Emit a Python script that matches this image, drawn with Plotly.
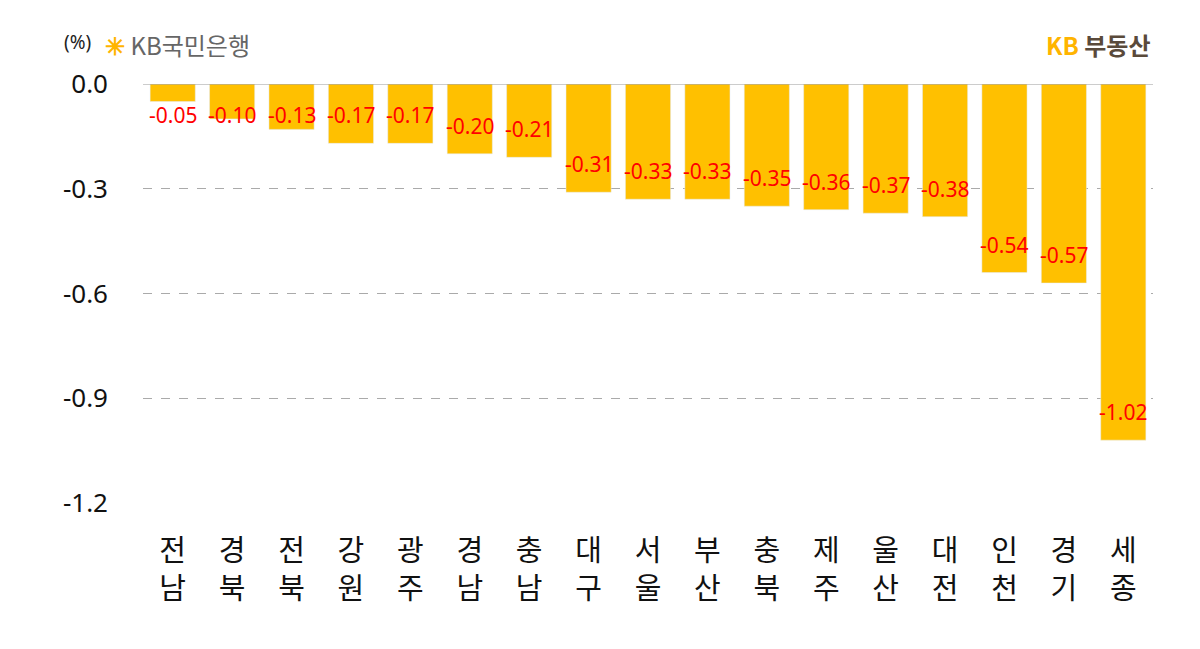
import plotly.graph_objects as go

regions = ["전<br>남", "경<br>북", "전<br>북", "강<br>원", "광<br>주", "경<br>남", "충<br>남", "대<br>구",
           "서<br>울", "부<br>산", "충<br>북", "제<br>주", "울<br>산", "대<br>전", "인<br>천", "경<br>기", "세<br>종"]
changes = [-0.05, -0.10, -0.13, -0.17, -0.17, -0.20, -0.21, -0.31,
           -0.33, -0.33, -0.35, -0.36, -0.37, -0.38, -0.54, -0.57, -1.02]
y_ticks = [0.0, -0.3, -0.6, -0.9, -1.2]

fig = go.Figure(go.Bar(x=regions, y=changes, marker_color="#FFC000", width=0.76))

# value labels placed a bit above the bar end, like the original
for r, v in zip(regions, changes):
    fig.add_annotation(x=r, y=min(v + 0.08, -0.09), text=f"{v:.2f}", showarrow=False,
                       font=dict(color="#FF0000", size=21, family="Noto Sans"))

fig.add_shape(type="line", xref="paper", yref="y", x0=0, x1=1, y0=0, y1=0,
              line=dict(color="#999999", width=1))

fig.add_annotation(xref="paper", yref="paper", x=-0.08, y=1.135, text="(%)", showarrow=False,
                   font=dict(size=19, color="#222222", family="Noto Sans"), xanchor="left")
fig.add_annotation(xref="paper", yref="paper", x=-0.04, y=1.14,
                   text="<span style='color:#FFB400'><b>✳</b></span> KB국민은행", showarrow=False,
                   font=dict(size=24, color="#666666", family="Noto Sans CJK KR"), xanchor="left")
fig.add_annotation(xref="paper", yref="paper", x=1.0, y=1.14,
                   text="<b><span style='color:#FFB400'>KB</span> 부동산</b>", showarrow=False,
                   font=dict(size=24, color="#5a4a3a", family="Noto Sans CJK KR"), xanchor="right")

fig.update_layout(
    width=1200, height=649, plot_bgcolor="white", paper_bgcolor="white",
    margin=dict(l=135, r=55, t=76, b=154), showlegend=False, bargap=0.24,
    font=dict(family="Noto Sans CJK KR"),
)
fig.update_yaxes(range=[-1.2, 0], tickvals=y_ticks, ticktext=["0.0", "-0.3", "-0.6", "-0.9", "-1.2"],
                 showgrid=True, gridcolor="#aaaaaa", griddash="dash", zeroline=False,
                 tickfont=dict(size=26, color="#111111", family="Noto Sans"), ticks="", ticklabelstandoff=34)
fig.update_xaxes(tickfont=dict(size=29, color="#111111"), showline=False, ticks="", ticklabelstandoff=28)

fig.write_html("out.html")
